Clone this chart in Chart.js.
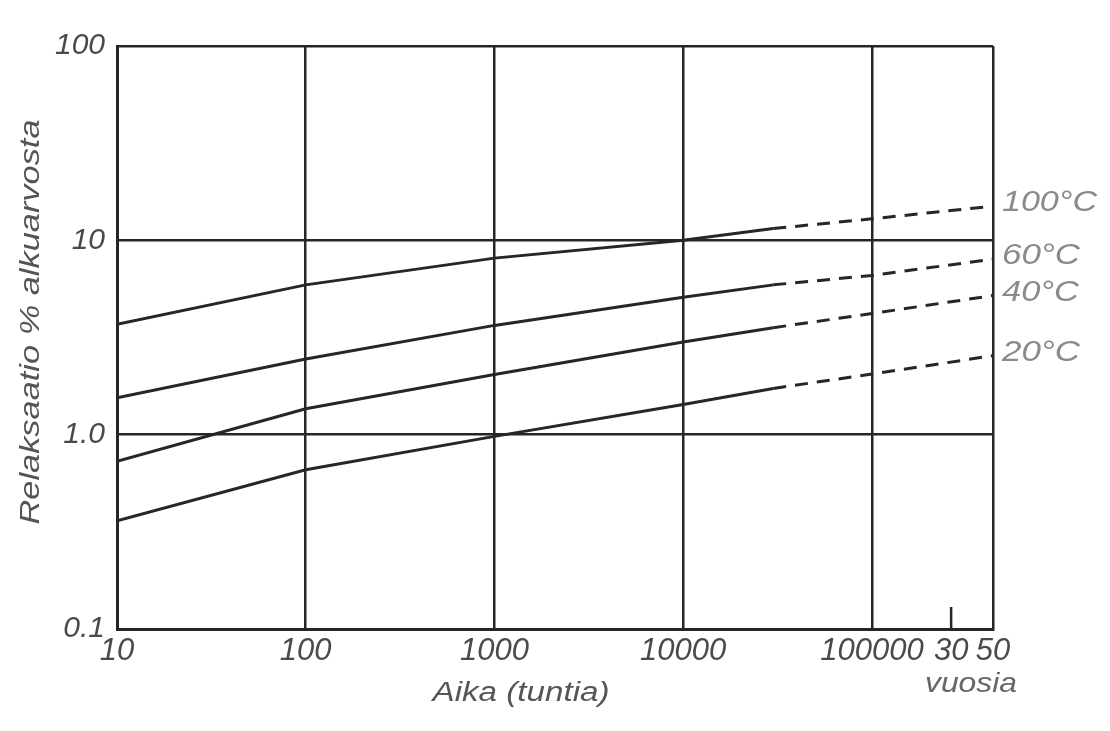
<!DOCTYPE html>
<html><head><meta charset="utf-8">
<script src="https://cdn.jsdelivr.net/npm/chart.js@4"></script>
<style>html,body{margin:0;padding:0;background:#fff}#wrap{width:1110px;height:731px}</style>
</head><body><div id="wrap"><canvas id="c" width="1110" height="731"></canvas></div>
<script>
// ---- data ----
const hours      = [10, 100, 1000, 10000, 30000, 100000, 438000];
const relax100C  = [3.7, 5.9, 8.1, 10.0, 11.5, 12.9, 15.0];
const relax60C   = [1.55, 2.45, 3.65, 5.1, 5.9, 6.6, 8.0];
const relax40C   = [0.73, 1.36, 2.04, 3.0, 3.55, 4.2, 5.2];
const relax20C   = [0.36, 0.66, 0.98, 1.43, 1.73, 2.05, 2.55];
const seriesNames = ['100°C', '60°C', '40°C', '20°C'];
const dashFrom = 30000;              // extrapolated (dashed) beyond this time
const xTickValues = [10, 100, 1000, 10000, 100000, 262800, 438000];
const xTickLabels = ['10', '100', '1000', '10000', '100000', '30', '50'];
const yearTick = 262800;             // 30 years in hours
const yTickValues = [0.1, 1, 10, 100];
const yTickLabels = ['0.1', '1.0', '10', '100'];
const yTitle = 'Relaksaatio % alkuarvosta';
const xTitle = 'Aika (tuntia)';
const yearsTitle = 'vuosia';

const seriesValues = [relax100C, relax60C, relax40C, relax20C];
const INK = '#262626';
const FONT = '"Liberation Sans", Arial, sans-serif';

function stretchText(ctx, text, cx, cy, size, width, color, rot) {
  ctx.save();
  ctx.font = 'italic ' + size + 'px ' + FONT;
  ctx.fillStyle = color;
  ctx.textAlign = 'center';
  ctx.textBaseline = 'middle';
  const w = ctx.measureText(text).width;
  ctx.translate(cx, cy);
  if (rot) ctx.rotate(rot);
  ctx.scale(width / w, 1);
  ctx.fillText(text, 0, 0);
  ctx.restore();
}

const decor = {
  id: 'decor',
  afterDraw(chart) {
    const ctx = chart.ctx, xs = chart.scales.x, ys = chart.scales.y, a = chart.chartArea;
    // 30-year short tick
    const xt = xs.getPixelForValue(yearTick);
    ctx.save();
    ctx.strokeStyle = INK; ctx.lineWidth = 2.5;
    ctx.beginPath(); ctx.moveTo(xt, a.bottom); ctx.lineTo(xt, a.bottom - 22); ctx.stroke();
    ctx.restore();
    // series labels at line ends
    const widths = [95, 78, 77, 78];
    chart.data.datasets.forEach((ds, i) => {
      const last = ds.data[ds.data.length - 1];
      const y = ys.getPixelForValue(last.y);
      stretchText(ctx, seriesNames[i], a.right + 9 + widths[i] / 2, y - 3, 29, widths[i], '#8a8a8a', 0);
    });
    // titles
    stretchText(ctx, yTitle, 31, 322, 27, 405, '#555', -Math.PI / 2);
    stretchText(ctx, xTitle, 521, 693, 27, 177, '#555', 0);
    stretchText(ctx, yearsTitle, 971, 684, 28, 92, '#666', 0);
  }
};

new Chart(document.getElementById('c'), {
  type: 'line',
  data: {
    datasets: seriesValues.map((vals, i) => ({
      label: seriesNames[i],
      data: hours.map((h, j) => ({ x: h, y: vals[j] })),
      borderColor: INK,
      borderWidth: 3,
      pointRadius: 0,
      tension: 0,
      fill: false,
      segment: { borderDash: c => c.p0.parsed.x >= dashFrom ? [13, 9] : undefined }
    }))
  },
  options: {
    responsive: false,
    animation: false,
    layout: { padding: { top: 46, right: 117, left: 0, bottom: 0 } },
    plugins: { legend: { display: false }, tooltip: { enabled: false } },
    scales: {
      x: {
        type: 'logarithmic', min: 10, max: 438000,
        afterBuildTicks: s => { s.ticks = xTickValues.map(v => ({ value: v })); },
        afterFit: s => { s.height = 731 - 629; },
        ticks: {
          autoSkip: false, maxRotation: 0, minRotation: 0, padding: 4,
          color: '#4a4a4a', font: { family: FONT, size: 31, style: 'italic' },
          callback: (v, i) => xTickLabels[i]
        },
        grid: {
          drawTicks: false, lineWidth: 2.5,
          color: c => (c.tick && c.tick.value === yearTick) ? 'rgba(0,0,0,0)' : INK
        },
        border: { display: true, color: INK, width: 3 }
      },
      y: {
        type: 'logarithmic', min: 0.1, max: 100,
        afterBuildTicks: s => { s.ticks = yTickValues.map(v => ({ value: v })); },
        afterFit: s => { s.width = 117; },
        ticks: {
          autoSkip: false, padding: 12,
          color: '#4a4a4a', font: { family: FONT, size: 30, style: 'italic' },
          callback: (v, i) => yTickLabels[i]
        },
        grid: { drawTicks: false, lineWidth: 2.5, color: INK },
        border: { display: true, color: INK, width: 3 }
      }
    }
  },
  plugins: [decor]
});
</script></body></html>
